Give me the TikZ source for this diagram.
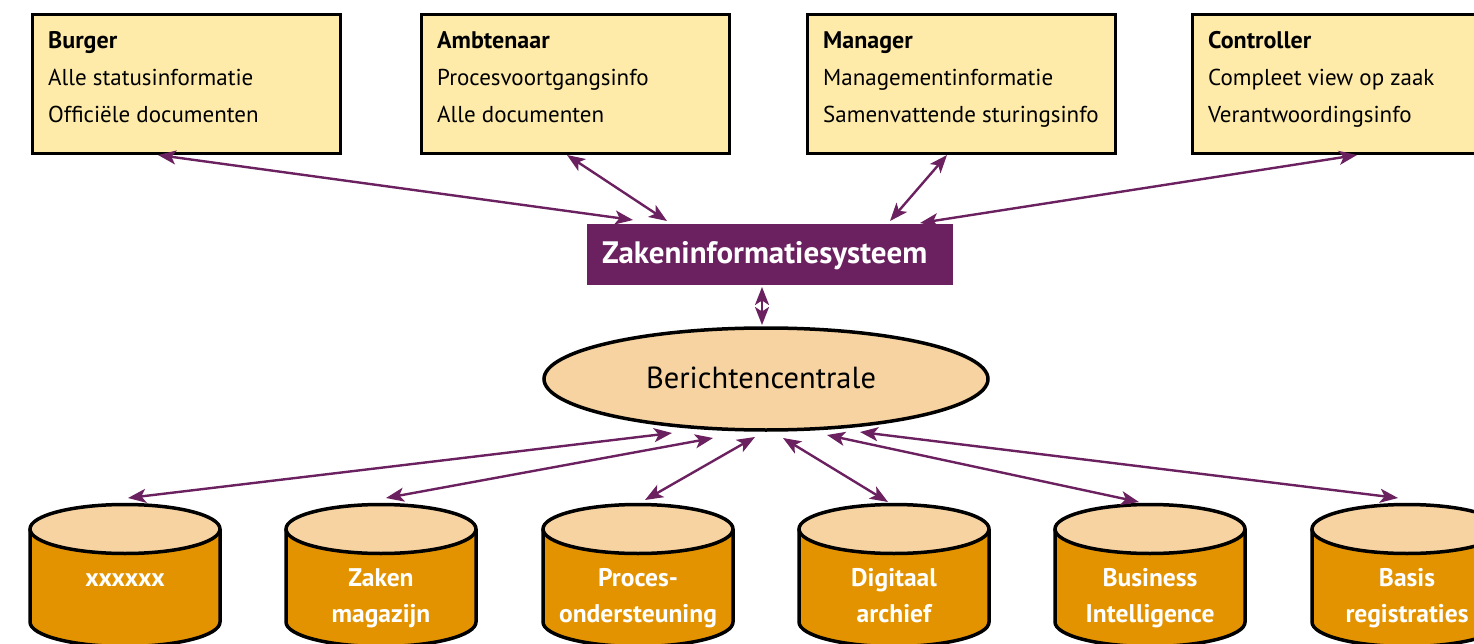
\documentclass[tikz,border=0pt]{standalone}
\usepackage{fontspec}
\setmainfont{PT Sans}
\usetikzlibrary{arrows.meta,shapes.geometric}
\definecolor{boxyellow}{HTML}{FEEBA9}
\definecolor{peach}{HTML}{F6D3A1}
\definecolor{drum}{HTML}{E39300}
\definecolor{plum}{HTML}{6B2160}
\tikzset{
  rolebox/.style={draw=black, line width=2.6pt, fill=boxyellow, anchor=north west,
    minimum width=308pt, minimum height=139pt, inner sep=0pt},
  rolehead/.style={anchor=base west, inner sep=0pt, font=\fontsize{24}{28}\selectfont\bfseries},
  roleline/.style={anchor=base west, inner sep=0pt, font=\fontsize{23}{27}\selectfont},
  drumlabel/.style={anchor=base, inner sep=0pt, text=white, font=\fontsize{25.5}{29}\selectfont\bfseries},
  link/.style={draw=plum, line width=2.4pt,
    {Stealth[length=18pt,width=14pt,inset=4.5pt]}-{Stealth[length=18pt,width=14pt,inset=4.5pt]}},
}
\begin{document}
\begin{tikzpicture}[x=1pt,y=-1pt]
\useasboundingbox (0,0) rectangle (1474,644);
\clip (0,0) rectangle (1474,644);

% role boxes
\foreach \nm/\x/\head/\la/\lb in {
  burger/31/Burger/Alle statusinformatie/Officiële documenten,
  ambt/420/Ambtenaar/Procesvoortgangsinfo/Alle documenten,
  manager/806/Manager/Managementinformatie/Samenvattende sturingsinfo,
  ctrl/1191/Controller/Compleet view op zaak/Verantwoordingsinfo}{
  \node[rolebox] (\nm) at (\x,13) {};
  \node[rolehead] (\nm-h) at (\x+17,49) {\head};
  \node[roleline] (\nm-a) at (\x+17,86) {\la};
  \node[roleline] (\nm-b) at (\x+17,123) {\lb};
}

% central system
\node[fill=plum, anchor=north west, minimum width=366pt, minimum height=61pt, inner sep=0pt] (zis) at (587,224) {};
\node[anchor=base west, inner sep=0pt, text=white, font=\fontsize{31}{35}\selectfont\bfseries] (zis-t) at (602,263) {Zakeninformatiesysteem};

% message hub
\node[draw=black, line width=3.5pt, fill=peach, ellipse, minimum width=444pt, minimum height=102pt, inner sep=0pt] (hub) at (766,379) {};
\node[anchor=base, inner sep=0pt, font=\fontsize{30.5}{34}\selectfont] (hub-t) at (761,388) {Berichtencentrale};

% data stores
\foreach \nm/\cx in {d1/125, d2/381, d3/638, d4/894, d5/1150, d6/1407}{
  \fill[drum] (\cx-95,529) -- (\cx-95,622) arc[start angle=180, end angle=0, x radius=95, y radius=24.5] -- (\cx+95,529) -- cycle;
  \draw[line width=3.5pt] (\cx-95,529) -- (\cx-95,622) arc[start angle=180, end angle=0, x radius=95, y radius=24.5] -- (\cx+95,529);
  \draw[line width=3.5pt, fill=peach] (\cx,529) ellipse [x radius=95, y radius=24.5];
  \coordinate (\nm) at (\cx,529);
}
\node[drumlabel] (d1-a) at (125,586) {xxxxxx};
\node[drumlabel] (d2-a) at (381,586) {Zaken};
\node[drumlabel] (d2-b) at (381,622) {magazijn};
\node[drumlabel] (d3-a) at (638,586) {Proces-};
\node[drumlabel] (d3-b) at (638,622) {ondersteuning};
\node[drumlabel] (d4-a) at (894,586) {Digitaal};
\node[drumlabel] (d4-b) at (894,622) {archief};
\node[drumlabel] (d5-a) at (1150,586) {Business};
\node[drumlabel] (d5-b) at (1150,622) {Intelligence};
\node[drumlabel] (d6-a) at (1407,586) {Basis};
\node[drumlabel] (d6-b) at (1407,622) {registraties};

% connector end points
\coordinate (burger-p) at (158,155);
\coordinate (ambt-p) at (567,155);
\coordinate (manager-p) at (947,155);
\coordinate (ctrl-p) at (1357,155);
\coordinate (zis-1) at (633,220);
\coordinate (zis-2) at (667,221);
\coordinate (zis-3) at (890,221);
\coordinate (zis-4) at (920,223);
\coordinate (zis-5) at (762,287);
\coordinate (hub-0) at (762,325);
\coordinate (hub-1) at (672,433);
\coordinate (hub-2) at (713,438);
\coordinate (hub-3) at (755,437);
\coordinate (hub-4) at (783,438);
\coordinate (hub-5) at (827,435);
\coordinate (hub-6) at (860,432);
\coordinate (d1-p) at (128,498);
\coordinate (d2-p) at (386,498);
\coordinate (d3-p) at (645,500);
\coordinate (d4-p) at (888,502);
\coordinate (d5-p) at (1139,502);
\coordinate (d6-p) at (1398,498);

% connectors
\draw[link] (burger-p) -- (zis-1);
\draw[link] (ambt-p) -- (zis-2);
\draw[link] (manager-p) -- (zis-3);
\draw[link] (ctrl-p) -- (zis-4);
\draw[link] (zis-5) -- (hub-0);
\draw[link] (hub-1) -- (d1-p);
\draw[link] (hub-2) -- (d2-p);
\draw[link] (hub-3) -- (d3-p);
\draw[link] (hub-4) -- (d4-p);
\draw[link] (hub-5) -- (d5-p);
\draw[link] (hub-6) -- (d6-p);
\end{tikzpicture}
\end{document}
